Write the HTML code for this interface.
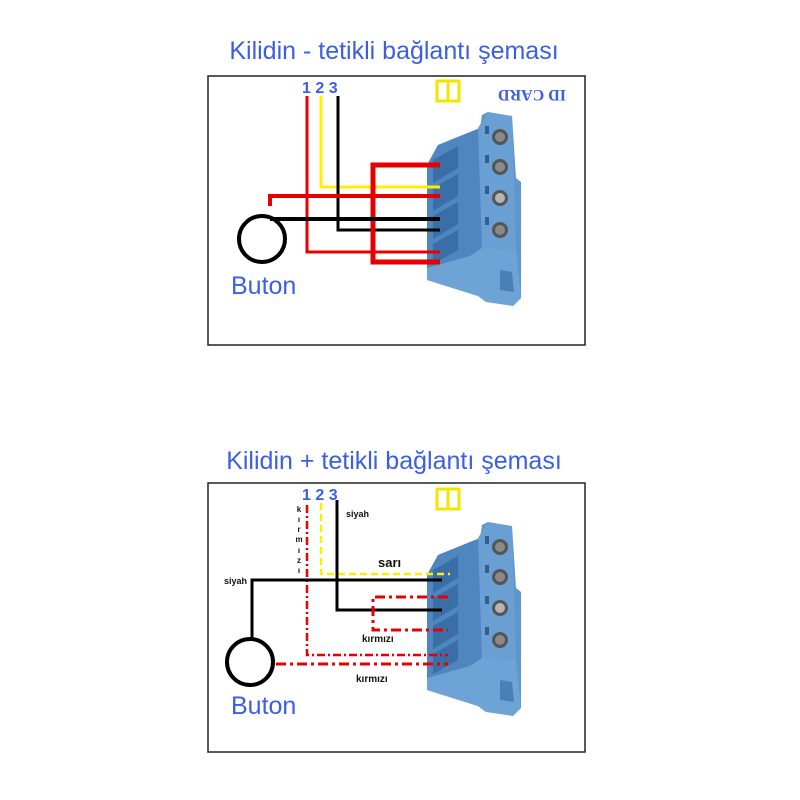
<!DOCTYPE html>
<html><head><style>body{margin:0;background:#fff}svg{display:block}</style></head><body>
<svg width="800" height="800" viewBox="0 0 800 800" xmlns="http://www.w3.org/2000/svg" font-family="Liberation Sans, sans-serif">
<defs>
<g id="conn">
<polygon points="427,165 438,145 480,128 482,115 488,112 497,118 512,116 516,178 521,182 521,298 513,306 500,302 486,302 478,296 427,280" fill="#5f96cc"/>
<polygon points="427,165 438,145 480,128 482,248 470,256 427,268" fill="#4f86bf"/>
<polygon points="478,128 488,112 512,116 516,250 482,250" fill="#6a9fd3"/>
<polygon points="427,268 470,256 482,248 516,250 521,298 513,306 486,302 478,296 427,280" fill="#6ea3d6"/>
<polygon points="433,160 458,146 458,168 433,183" fill="#3a6ea6"/>
<polygon points="433,188 458,174 458,196 433,211" fill="#3a6ea6"/>
<polygon points="433,216 458,202 458,224 433,239" fill="#3a6ea6"/>
<polygon points="433,244 458,230 458,250 433,264" fill="#3a6ea6"/>
<rect x="485" y="126" width="4" height="8" fill="#2f5f96"/>
<rect x="485" y="155" width="4" height="8" fill="#2f5f96"/>
<rect x="485" y="186" width="4" height="8" fill="#2f5f96"/>
<rect x="485" y="217" width="4" height="8" fill="#2f5f96"/>
<circle cx="500" cy="137" r="8" fill="#555"/><circle cx="500" cy="137" r="5" fill="#8a8a8a"/>
<circle cx="500" cy="167" r="8" fill="#555"/><circle cx="500" cy="167" r="5" fill="#8a8a8a"/>
<circle cx="500" cy="198" r="8" fill="#555"/><circle cx="500" cy="198" r="5" fill="#b5b5b5"/>
<circle cx="500" cy="230" r="8" fill="#555"/><circle cx="500" cy="230" r="5" fill="#8a8a8a"/>
<polygon points="500,270 512,272 514,292 500,290" fill="#4a80b8"/>
</g>
</defs>
<text x="394" y="59" text-anchor="middle" font-size="25" fill="#3b5ee6">Kilidin - tetikli bağlantı şeması</text>
<rect x="208" y="76" width="377" height="269" fill="none" stroke="#222" stroke-width="1.5"/>
<text x="302" y="93" font-size="16" font-weight="bold" fill="#3b5ee6">1 2 3</text>
<text x="0" y="0" font-size="16" font-weight="bold" fill="#3b5ee6" font-family="Liberation Serif, serif" transform="translate(566,90) rotate(180)">ID CARD</text>
<rect x="437" y="81" width="22" height="20" fill="none" stroke="#f2e600" stroke-width="3"/><line x1="448" y1="81" x2="448" y2="101" stroke="#f2e600" stroke-width="3"/>
<use href="#conn"/>
<g fill="none">
<path d="M307,96 V252 H440" stroke="#e60000" stroke-width="3"/>
<path d="M321,96 V187 H440" stroke="#ffee00" stroke-width="3"/>
<path d="M338,96 V230 H440" stroke="#000" stroke-width="3"/>
<path d="M440,165 H373 V262 H440" stroke="#e60000" stroke-width="5"/>
<path d="M270,206 V196 H440" stroke="#e60000" stroke-width="4"/>
<path d="M270,219 H440" stroke="#000" stroke-width="4"/>
<circle cx="262" cy="239" r="23" stroke="#000" stroke-width="4"/>
</g>
<text x="231" y="294" font-size="25" fill="#3b5ee6">Buton</text>

<text x="394" y="469" text-anchor="middle" font-size="25" fill="#3b5ee6">Kilidin + tetikli bağlantı şeması</text>
<rect x="208" y="483" width="377" height="269" fill="none" stroke="#222" stroke-width="1.5"/>
<text x="302" y="500" font-size="16" font-weight="bold" fill="#3b5ee6">1 2 3</text>
<rect x="437" y="489" width="22" height="20" fill="none" stroke="#f2e600" stroke-width="3"/><line x1="448" y1="489" x2="448" y2="509" stroke="#f2e600" stroke-width="3"/>
<use href="#conn" transform="translate(0,410)"/>
<g fill="none">
<path d="M307,505 V655 H448" stroke="#e60000" stroke-width="2.5" stroke-dasharray="8,3,2,3"/>
<path d="M321,503 V574 H450" stroke="#ffee00" stroke-width="2.5" stroke-dasharray="7,4"/>
<path d="M337,500 V610 H442" stroke="#000" stroke-width="3"/>
<path d="M252,640 V580 H442" stroke="#000" stroke-width="3"/>
<path d="M448,597 H373 V630 H448" stroke="#e60000" stroke-width="3" stroke-dasharray="10,4,3,4"/>
<path d="M276,664 H448" stroke="#e60000" stroke-width="3" stroke-dasharray="10,4,3,4"/>
<circle cx="250" cy="662" r="23" stroke="#000" stroke-width="4"/>
</g>
<text x="231" y="714" font-size="25" fill="#3b5ee6">Buton</text>
<g font-size="9" font-weight="bold" fill="#111">
<text x="346" y="517">siyah</text>
<text x="224" y="584">siyah</text>
<text x="378" y="567" font-size="13">sarı</text>
<text x="362" y="642" font-size="10">kırmızı</text>
<text x="356" y="682" font-size="10">kırmızı</text>
<g text-anchor="middle" font-size="8"><text x="299" y="512">k</text><text x="299" y="522">ı</text><text x="299" y="532">r</text><text x="299" y="542">m</text><text x="299" y="553">ı</text><text x="299" y="563">z</text><text x="299" y="573">ı</text></g>
</g>
</svg>
</body></html>
